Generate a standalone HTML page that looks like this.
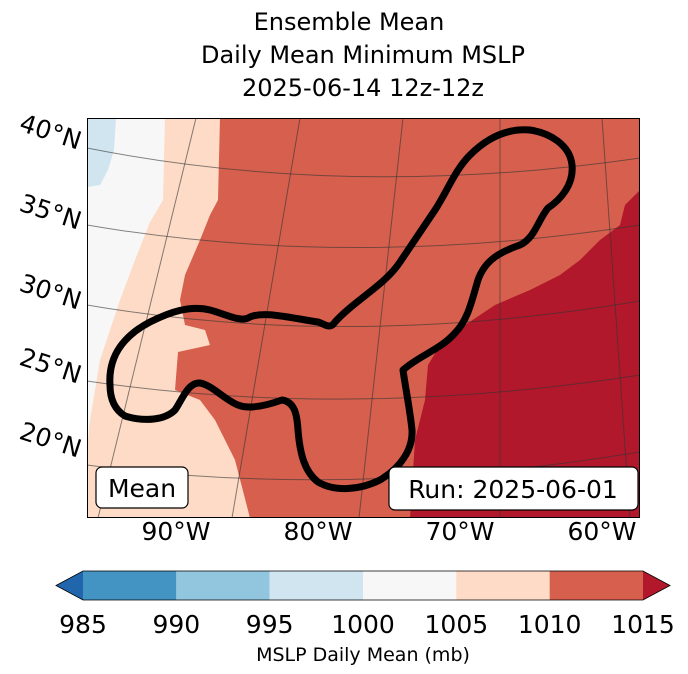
<!DOCTYPE html>
<html><head><meta charset="utf-8"><style>
html,body{margin:0;padding:0;background:#fff;}
svg{display:block;font-family:"DejaVu Sans","Liberation Sans",sans-serif;}
</style></head><body>
<svg id="chart" width="688" height="674" viewBox="0 0 688 674" xmlns="http://www.w3.org/2000/svg">
<g font-size="24" text-anchor="middle" fill="#000">
<text x="349" y="30">Ensemble Mean</text>
<text x="363" y="63">Daily Mean Minimum MSLP</text>
<text x="363" y="96">2025-06-14 12z-12z</text>
</g>
<defs><clipPath id="mapclip"><rect x="87" y="118" width="553" height="400"/></clipPath></defs>
<g clip-path="url(#mapclip)">
<rect x="87" y="118" width="553" height="400" fill="#f7f7f7"/>
<polygon fill="#d1e5f0" points="87,118 116,118 114,150 108,170 100,185 87,187"/>
<polygon fill="#fddbc7" points="165,118 163,200 150,222 135,260 120,300 100,360 90,420 87,450 87,518 640,518 640,118"/>
<polygon fill="#d6604d" points="220,118 218,200 210,215 200,240 185,275 180,300 185,325 205,330 210,345 178,352 175,390 200,400 215,420 235,460 250,518 640,518 640,118"/>
<polygon fill="#b2182b" points="640,190 625,205 620,225 600,240 580,260 560,275 530,290 495,305 465,325 440,345 428,365 425,400 415,440 410,518 640,518"/>
<g stroke="#333" stroke-opacity="0.6" stroke-width="1" fill="none">
<path d="M87,148 Q350,200 640,158"/>
<path d="M87,225 Q350,270 640,225"/>
<path d="M87,305 Q350,350 640,301"/>
<path d="M87,381 Q350,420 640,375"/>
<path d="M87,465 Q350,500 640,452"/>
<path d="M196,118 L98,518"/>
<path d="M300,118 L232,518"/>
<path d="M403,118 L359,518"/>
<path d="M500,118 L500,518"/>
<path d="M602,118 L630,518"/>
</g>
<path fill="none" stroke="#000" stroke-width="7" stroke-linejoin="round" d="M110,385 C108,355 125,335 150,322 C170,312 190,305 210,310 C225,314 240,322 248,318 C262,310 290,318 318,322 C325,324 330,330 335,322 C355,300 385,285 400,262 C415,240 425,225 435,210 C448,190 455,170 470,155 C485,140 505,128 530,130 C550,133 570,145 572,165 C574,185 560,200 548,208 C538,220 535,238 520,245 C500,252 485,260 478,280 C472,300 468,320 455,333 C440,350 420,355 403,370 C405,385 410,410 412,430 C413,450 400,468 380,480 C360,490 335,492 318,482 C305,472 300,455 298,430 C297,415 295,402 282,400 C268,405 250,410 238,405 C225,400 212,385 200,383 C188,382 182,400 175,410 C165,420 145,422 125,416 C112,408 110,395 110,385 Z"/>
<rect x="87.5" y="118.5" width="552" height="399" fill="none" stroke="#000" stroke-width="1"/>
</g>
<g font-size="25" text-anchor="middle">
<text transform="translate(48,140) rotate(18)">40°N</text>
<text transform="translate(48,220) rotate(18)">35°N</text>
<text transform="translate(48,300) rotate(18)">30°N</text>
<text transform="translate(48,374) rotate(18)">25°N</text>
<text transform="translate(48,448) rotate(18)">20°N</text>
</g>
<g font-size="25" text-anchor="middle">
<text x="176" y="540">90°W</text>
<text x="318" y="540">80°W</text>
<text x="460" y="540">70°W</text>
<text x="602" y="540">60°W</text>
</g>
<g>
<rect x="96" y="467" width="92" height="41" rx="6" fill="#fff" stroke="#000" stroke-width="1.2"/>
<text x="142" y="497" font-size="25" text-anchor="middle">Mean</text>
</g>
<g>
<rect x="389" y="467" width="249" height="43" rx="6" fill="#fff" stroke="#000" stroke-width="1.2"/>
<text x="513" y="498" font-size="25" text-anchor="middle">Run: 2025-06-01</text>
</g>
<g id="cbar"></g>
<text x="363" y="661" font-size="19" text-anchor="middle">MSLP Daily Mean (mb)</text>
<script>
const levels = [985, 990, 995, 1000, 1005, 1010, 1015];
const bandColors = ["#4393c3", "#92c5de", "#d1e5f0", "#f7f7f7", "#fddbc7", "#d6604d"];
const extendColors = ["#2166ac", "#b2182b"];
const g = document.getElementById('cbar');
const ns = 'http://www.w3.org/2000/svg';
const x0 = 83, x1 = 643, yT = 571, yB = 600;
const xs = v => x0 + (v - levels[0]) / (levels[levels.length-1] - levels[0]) * (x1 - x0);
for (let i = 0; i < bandColors.length; i++) {
  const r = document.createElementNS(ns, 'rect');
  r.setAttribute('x', xs(levels[i])); r.setAttribute('y', yT);
  r.setAttribute('width', xs(levels[i+1]) - xs(levels[i])); r.setAttribute('height', yB - yT);
  r.setAttribute('fill', bandColors[i]);
  
  
  g.appendChild(r);
}
const tl = document.createElementNS(ns, 'polygon');
tl.setAttribute('points', `${x0},${yT} ${x0},${yB} 56,${(yT+yB)/2}`);
tl.setAttribute('fill', extendColors[0]);


g.appendChild(tl);
const tr = document.createElementNS(ns, 'polygon');
tr.setAttribute('points', `${x1},${yT} ${x1},${yB} 670,${(yT+yB)/2}`);
tr.setAttribute('fill', extendColors[1]);


g.appendChild(tr);
const out = document.createElementNS(ns, 'polygon');
out.setAttribute('points', `56,${(yT+yB)/2} ${x0},${yT} ${x1},${yT} 670,${(yT+yB)/2} ${x1},${yB} ${x0},${yB}`);
out.setAttribute('fill', 'none'); out.setAttribute('stroke', '#000'); out.setAttribute('stroke-width', '0.8');


g.appendChild(out);
levels.forEach(v => {
  const t = document.createElementNS(ns, 'text');
  t.setAttribute('x', xs(v)); t.setAttribute('y', 633);
  t.setAttribute('font-size', '25'); t.setAttribute('text-anchor', 'middle');
  t.textContent = v;
  
  
  g.appendChild(t);
});
</script>
</svg>
</body></html>
